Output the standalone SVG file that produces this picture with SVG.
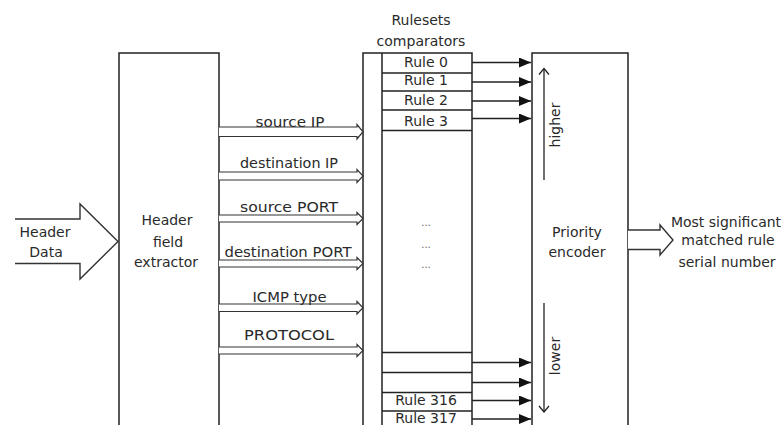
<svg xmlns="http://www.w3.org/2000/svg" width="782" height="425" viewBox="0 0 782 425">
<style>
.ln{fill:none;stroke:#222;stroke-width:1.5}
.thin{fill:none;stroke:#222;stroke-width:1.3}
.bus{fill:#fff;stroke:#333;stroke-width:1.2}
.big{fill:#fff;stroke:#333;stroke-width:1.4}
.t{font-family:"DejaVu Sans","Liberation Sans",sans-serif;font-size:14px;fill:#2a2a2a;text-anchor:middle}
.dots{font-family:"DejaVu Sans",sans-serif;font-size:10px;fill:#666;text-anchor:middle}
</style>
<defs>
<marker id="tri" markerWidth="12" markerHeight="10" refX="12" refY="5" orient="auto" markerUnits="userSpaceOnUse">
<path d="M0,0 L12,5 L0,10 Z" fill="#111"/>
</marker>
<marker id="chev" markerWidth="12" markerHeight="12" refX="7" refY="6" orient="auto" markerUnits="userSpaceOnUse">
<path d="M1,1 L7,6 L1,11" fill="none" stroke="#222" stroke-width="1.3"/>
</marker>
</defs>
<rect width="782" height="425" fill="#fff"/>

<g id="header-data">
<path class="big" d="M15,219 H80 V204 L118,241.5 L80,279 V263.5 H15"/>
<text class="t" x="45" y="237">Header</text>
<text class="t" x="46" y="257">Data</text>
</g>

<g id="extractor">
<path class="ln" d="M119,426 V53 H219 V426"/>
<text class="t" x="167" y="225">Header</text>
<text class="t" x="168" y="247">field</text>
<text class="t" x="166" y="267">extractor</text>
</g>

<g id="comparators">
<text class="t" x="421" y="25">Rulesets</text>
<text class="t" x="421" y="46">comparators</text>
<path class="ln" d="M363,426 V53 H472 V426 M382,53 V426"/>
<path class="thin" d="M382,73 H472 M382,91 H472 M382,110 H472 M382,130.5 H472 M382,352.5 H472 M382,372.5 H472 M382,392.5 H472 M382,411 H472"/>
<text class="t" x="426" y="67">Rule 0</text>
<text class="t" x="426" y="85">Rule 1</text>
<text class="t" x="426" y="105">Rule 2</text>
<text class="t" x="426" y="126">Rule 3</text>
<text class="dots" x="426" y="226">...</text>
<text class="dots" x="426" y="248">...</text>
<text class="dots" x="426" y="268">...</text>
<text class="t" x="426" y="405">Rule 316</text>
<text class="t" x="426" y="423">Rule 317</text>
</g>

<g id="encoder">
<path class="ln" d="M532,426 V53 H628 V426"/>
<text class="t" x="577" y="237">Priority</text>
<text class="t" x="577" y="257">encoder</text>
<text class="t" transform="translate(560,125) rotate(-90)" x="0" y="0">higher</text>
<text class="t" transform="translate(560,356) rotate(-90)" x="0" y="0">lower</text>
</g>

<g id="output">
<path class="big" d="M628,230 H660 V225 L673,240 L660,255 V249.5 H628"/>
<text class="t" x="726" y="227">Most significant</text>
<text class="t" x="728" y="245">matched rule</text>
<text class="t" x="727" y="267">serial number</text>
</g>

<g id="connectors">
<path class="bus" d="M219,127 H357 V124.5 L363,131.75 L357,139 V136.5 H219"/>
<path class="bus" d="M219,172 H357 V169.5 L363,176 L357,182.5 V180 H219"/>
<path class="bus" d="M219,215 H357 V212.5 L363,218.5 L357,224.5 V222 H219"/>
<path class="bus" d="M219,260 H357 V257.5 L363,263.5 L357,269.5 V267 H219"/>
<path class="bus" d="M219,304 H357 V301.5 L363,307.75 L357,314 V311.5 H219"/>
<path class="bus" d="M219,347 H357 V344.5 L363,350.5 L357,356.5 V354 H219"/>
<g class="thin" marker-end="url(#tri)">
<path d="M472,62.5 H531"/>
<path d="M472,82 H531"/>
<path d="M472,101 H531"/>
<path d="M472,118.5 H531"/>
<path d="M472,362.5 H531"/>
<path d="M472,382.5 H531"/>
<path d="M472,400.5 H531"/>
<path d="M472,419 H531"/>
</g>
<path class="thin" d="M544,180 V68.5" marker-end="url(#chev)"/>
<path class="thin" d="M544,303 V412" marker-end="url(#chev)"/>
</g>
<g id="bus-labels">
<text class="t" x="290" y="127" textLength="69" lengthAdjust="spacingAndGlyphs">source IP</text>
<text class="t" x="289" y="168" textLength="98" lengthAdjust="spacingAndGlyphs">destination IP</text>
<text class="t" x="289" y="212" textLength="98" lengthAdjust="spacingAndGlyphs">source PORT</text>
<text class="t" x="288" y="257" textLength="127" lengthAdjust="spacingAndGlyphs">destination PORT</text>
<text class="t" x="289.5" y="302" textLength="74" lengthAdjust="spacingAndGlyphs">ICMP type</text>
<text class="t" x="289" y="340" textLength="90" lengthAdjust="spacingAndGlyphs">PROTOCOL</text>
</g>
</svg>
